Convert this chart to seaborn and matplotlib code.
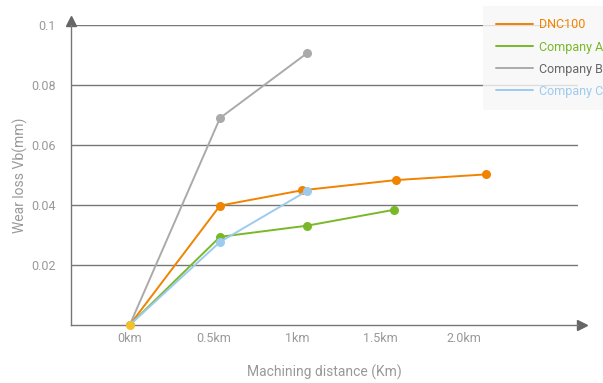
import numpy as np
import pandas as pd
import seaborn as sns
import matplotlib.pyplot as plt
from matplotlib.lines import Line2D

# data
series = ['DNC100', 'Company A', 'Company B', 'Company C']
dnc100_x = [0, 0.54, 1.03, 1.59, 2.13]
dnc100_y = [0, 0.0398, 0.0449, 0.0483, 0.0502]
comp_a_x = [0, 0.54, 1.06, 1.58]
comp_a_y = [0, 0.0294, 0.0331, 0.0384]
comp_b_x = [0, 0.54, 1.06]
comp_b_y = [0, 0.0690, 0.0906]
comp_c_x = [0, 0.54, 1.06]
comp_c_y = [0, 0.0277, 0.0447]

tick_pos = [0, 0.5, 1.0, 1.5, 2.0]
tick_labels = ['0km', '0.5km', '1km', '1.5km', '2.0km']
ytick_pos = [0.02, 0.04, 0.06, 0.08, 0.1]
ytick_labels = ['0.02', '0.04', '0.06', '0.08', '0.1']

colors = ['#f08300', '#7ab829', '#aaaaaa', '#9ccbee']
text_colors = ['#f08300', '#7ab829', '#666666', '#9ccbee']


def build_frame():
    xs = [dnc100_x, comp_a_x, comp_b_x, comp_c_x]
    ys = [dnc100_y, comp_a_y, comp_b_y, comp_c_y]
    rows = []
    for name, x, y in zip(series, xs, ys):
        for a, b in zip(x, y):
            rows.append({'distance': a, 'wear': b, 'series': name})
    return pd.DataFrame(rows)


def main():
    sns.set_style('white')
    plt.rcParams['font.family'] = ['Roboto', 'DejaVu Sans']
    grey = '#999999'
    axis_col = '#777777'

    df = build_frame()
    fig = plt.figure(figsize=(6.03, 3.83), dpi=100)
    ax = fig.add_axes([71 / 603, 1 - 325 / 383, 507 / 603, 300 / 383])

    sns.lineplot(data=df, x='distance', y='wear', hue='series', hue_order=series,
                 palette=colors, marker='o', markersize=6.5, markeredgewidth=0,
                 linewidth=1.4, sort=False, ax=ax, zorder=3, legend=False)
    # gold dot at the origin
    ax.plot([0], [0], 'o', color='#f5c02a', markersize=6.5, markeredgewidth=0,
            zorder=5, clip_on=False)

    ax.set_xlim(-0.351, 2.68)
    ax.set_ylim(0, 0.1)
    ax.set_xticks(tick_pos)
    ax.set_xticklabels(tick_labels)
    ax.set_yticks(ytick_pos)
    ax.set_yticklabels(ytick_labels)
    ax.tick_params(axis='x', direction='in', length=4, color=axis_col, width=1,
                   labelcolor=grey, labelsize=9, pad=5)
    ax.tick_params(axis='y', length=0, labelcolor=grey, labelsize=9, pad=11)

    ax.yaxis.grid(True, color=axis_col, linewidth=1)
    ax.set_axisbelow(True)
    for s in ['top', 'right']:
        ax.spines[s].set_visible(False)
    for s in ['left', 'bottom']:
        ax.spines[s].set_color(axis_col)
        ax.spines[s].set_linewidth(1)

    # arrow heads
    ax.plot([0], [1.015], marker='^', color='#666666', markersize=7,
            transform=ax.transAxes, clip_on=False)
    ax.plot([1.008], [0], marker='>', color='#666666', markersize=7,
            transform=ax.transAxes, clip_on=False)

    ax.set_xlabel('Machining distance (Km)', color=grey, fontsize=10, labelpad=14)
    ax.set_ylabel('Wear loss Vb(mm)', color=grey, fontsize=10, labelpad=2)

    handles = [Line2D([], [], color=c, linewidth=1.4) for c in colors]
    leg = fig.legend(handles, series, loc='upper left',
                     bbox_to_anchor=(483 / 603, 1 - 6 / 383),
                     frameon=True, fontsize=9, handlelength=3.0,
                     handletextpad=0.45, borderpad=1.0, labelspacing=0.72,
                     borderaxespad=0)
    leg.get_frame().set_facecolor('#f7f7f7')
    leg.get_frame().set_edgecolor('none')
    leg.get_frame().set_boxstyle('square', pad=0)
    for txt, c in zip(leg.get_texts(), text_colors):
        txt.set_color(c)

    fig.savefig('out.png', dpi=100)


if __name__ == '__main__':
    main()
